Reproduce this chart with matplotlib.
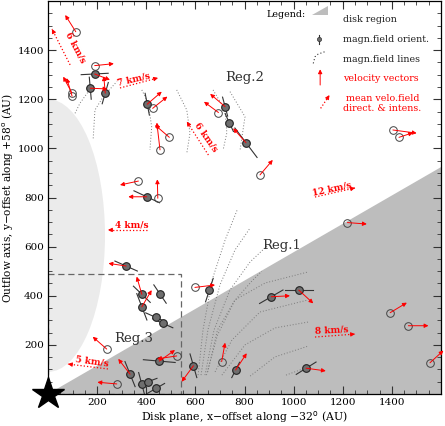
import numpy as np
import matplotlib.pyplot as plt
from matplotlib.patches import Polygon, Ellipse, Rectangle

# ---- data (AU) ----
# filled maser spots: position, B-field orientation (deg), segment length, velocity vector
fill_x = [190, 172, 233, 404, 721, 738, 806, 402, 318, 382, 456, 382, 439, 467, 453, 334, 382, 406, 440, 657, 592, 764, 909, 1021, 1051]
fill_y = [1303, 1245, 1225, 1180, 1170, 1105, 1023, 803, 521, 406, 407, 355, 312, 288, 134, 81, 39, 50, 23, 423, 115, 98, 396, 423, 105]
fill_ang = [3, 95, 74, 101, 105, 115, 127, 155, 156, 136, 124, 111, 156, 156, 175, 112, 105, 20, 30, 72, 106, 63, 30, 0, 32]
fill_len = [110, 90, 90, 90, 80, 80, 150, 115, 100, 95, 90, 115, 90, 90, 130, 110, 100, 80, 80, 100, 100, 70, 110, 115, 95]
fill_vx = [62, 70, -6, 59, -61, 0, -52, -75, -72, -21, 0, 40, 0, 0, 64, -48, 0, 0, 0, 0, -48, 45, 76, 59, 80]
fill_vy = [-24, -3, 69, 51, 52, 0, 59, 0, 11, 72, 0, 68, 0, 0, 45, 62, 0, 0, 0, 0, -65, 68, 4, -54, -11]

# open maser spots: position, velocity vector
open_x = [113, 190, 97, 98, 426, 494, 456, 694, 863, 447, 368, 1404, 1429, 1219, 1393, 1467, 1555, 598, 707, 239, 524, 280]
open_y = [1475, 1337, 1226, 1213, 1163, 1045, 994, 1146, 892, 797, 867, 1075, 1045, 698, 331, 278, 127, 434, 132, 183, 155, 41]
open_vx = [-43, 78, -35, -22, 60, -58, -13, -59, 52, -2, -75, 97, 57, 79, 68, 82, 55, 82, 14, -57, -80, -79]
open_vy = [68, 8, 66, 73, 48, 50, 111, 44, 61, 77, -16, -13, 19, -6, 41, 0, 50, 10, 77, 50, -12, 7]

# mean velocity field arrows
mean_x0 = [90, 293, 653, 1087, 403, 244, 1087]
mean_y0 = [1340, 1246, 973, 802, 668, 102, 232]
mean_x1 = [16, 448, 565, 1250, 244, 81, 1250]
mean_y1 = [1486, 1287, 1109, 839, 668, 122, 244]
mean_lab = ['6 km/s', '7 km/s', '6 km/s', '12 km/s', '4 km/s', '5 km/s', '8 km/s']
mean_tx = [112, 349, 644, 1155, 341, 178, 1155]
mean_ty = [1411, 1283, 1045, 833, 688, 132, 261]
mean_rot = [-62, 13, -55, 12, 0, -8, 3]

# magnetic field lines (dotted)
field_lines = [
    [(110, 1143), (130, 1184), (164, 1231)],
    [(184, 1041), (191, 1156), (225, 1211), (280, 1272)],
    [(382, 1238), (408, 1184), (422, 1088), (415, 994)],
    [(524, 1238), (565, 1156), (578, 1062), (565, 980)],
    [(672, 1238), (721, 1156), (728, 1063), (713, 994)],
    [(741, 1231), (802, 1129), (782, 994)],
    [(611, 77), (631, 261), (668, 464), (721, 627), (770, 749)],
    [(623, 77), (651, 261), (700, 444), (761, 586), (823, 676)],
    [(639, 77), (676, 261), (741, 424), (823, 538), (896, 607)],
    [(645, 77), (690, 240), (760, 380), (830, 460), (870, 500)],
    [(650, 90), (690, 261), (761, 383), (884, 452), (1059, 497)],
    [(680, 90), (749, 220), (863, 334), (1059, 383)],
    [(708, 77), (802, 200), (924, 269), (1059, 293)],
    [(823, 73), (924, 151), (1059, 195)],
    [(969, 77), (1059, 110)],
]

regions = ['Reg.1', 'Reg.2', 'Reg.3']
reg_x = [952, 802, 350]
reg_y = [605, 1287, 224]

disk_angle = 30  # deg
xmax, ymax = 1600, 1600

plt.rcParams['font.family'] = ['DejaVu Serif']
fig = plt.figure(figsize=(4.45, 4.26), dpi=100)
ax = fig.add_axes([0.1079, 0.0751, 0.8831, 0.9225])

# background regions
ax.add_patch(Ellipse((0, 645), 464, 1110, color='#ebebeb', lw=0, zorder=0))
ax.add_patch(Polygon([(0, 0), (xmax, xmax * np.tan(np.radians(disk_angle))), (xmax, 0)],
                     closed=True, color='#bdbdbd', lw=0, zorder=1))
ax.add_patch(Rectangle((0, 0), 540, 490, fill=False, ls=(0, (5, 3)), ec='#666666', lw=0.9, zorder=2))

for line in field_lines:
    xs, ys = zip(*line)
    ax.plot(xs, ys, ls=(0, (1, 2)), color='#7a7a7a', lw=0.7, zorder=2)


def red_arrow(x0, y0, x1, y1, ls='-'):
    ax.annotate('', xy=(x1, y1), xytext=(x0, y0), annotation_clip=False,
                arrowprops=dict(arrowstyle='-|>', color='red', lw=0.7, ls=ls,
                                shrinkA=0, shrinkB=0, mutation_scale=6), zorder=5)


# field orientation segments
for x, y, a, l in zip(fill_x, fill_y, fill_ang, fill_len):
    c, s = np.cos(np.radians(a)), np.sin(np.radians(a))
    ax.plot([x - l / 2 * c, x + l / 2 * c], [y - l / 2 * s, y + l / 2 * s], color='#333333', lw=0.8, zorder=3)

# velocity vectors
for x, y, dx, dy in zip(fill_x + open_x, fill_y + open_y, fill_vx + open_vx, fill_vy + open_vy):
    if dx != 0 or dy != 0:
        red_arrow(x, y, x + dx, y + dy)

ax.plot(fill_x, fill_y, 'o', ms=5.5, mfc='#6e6e6e', mec='#222222', mew=0.8, ls='none', zorder=4)
ax.plot(open_x, open_y, 'o', ms=5.5, mfc='none', mec='#444444', mew=0.7, ls='none', zorder=4)

# mean velocity field
for x0, y0, x1, y1, lab, tx, ty, r in zip(mean_x0, mean_y0, mean_x1, mean_y1, mean_lab, mean_tx, mean_ty, mean_rot):
    ax.plot([x0, x1], [y0, y1], ls=':', color='red', lw=0.9, zorder=5)
    red_arrow(x1 - 0.1 * (x1 - x0), y1 - 0.1 * (y1 - y0), x1, y1)
    ax.text(tx, ty, lab, color='red', fontsize=6.5, fontweight='bold', rotation=r,
            ha='center', va='center', rotation_mode='anchor', zorder=6)

for t, x, y in zip(regions, reg_x, reg_y):
    ax.text(x, y, t, fontsize=9.5, ha='center', va='center', color='#333333', zorder=6)

# legend
ax.text(890, 1547, 'Legend:', fontsize=6.8, ha='left', va='center')
ax.add_patch(Polygon([(1074, 1543), (1141, 1543), (1141, 1580)], closed=True, color='#bdbdbd', lw=0))
ax.plot([1104, 1104], [1426, 1462], color='#333333', lw=0.8)
ax.plot([1104], [1444], 'o', ms=3, mfc='#6e6e6e', mec='#333333', mew=0.5)
ax.plot([1080, 1087, 1100, 1128], [1346, 1373, 1384, 1394], ls=(0, (1, 2)), color='#333333', lw=0.8)
red_arrow(1108, 1258, 1108, 1322)
ax.plot([1110, 1146], [1163, 1217], ls=':', color='red', lw=0.9)
red_arrow(1142, 1211, 1146, 1217)
leg_lab = ['disk region', 'magn.field orient.', 'magn.field lines', 'velocity vectors']
leg_y = [1526, 1444, 1363, 1283]
leg_c = ['#222222', '#222222', '#222222', 'red']
for t, y, c in zip(leg_lab, leg_y, leg_c):
    ax.text(1200, y, t, fontsize=6.8, color=c, ha='left', va='center')
ax.text(1361, 1203, 'mean velo.field', fontsize=6.8, color='red', ha='center', va='center')
ax.text(1361, 1161, 'direct. & intens.', fontsize=6.8, color='red', ha='center', va='center')

# star at origin
ax.plot([0], [0], marker='*', ms=24, color='black', clip_on=False, zorder=10)

ax.set_xlim(0, xmax)
ax.set_ylim(0, ymax)
ax.set_xticks(range(200, 1600, 200))
ax.set_yticks(range(200, 1600, 200))
ax.set_xticks(range(0, 1601, 50), minor=True)
ax.set_yticks(range(0, 1601, 50), minor=True)
ax.tick_params(which='both', direction='in', top=True, right=True, labelsize=7.5, color='#333333')
ax.tick_params(which='major', length=6, width=0.8, pad=3)
ax.tick_params(which='minor', length=3, width=0.6)
for s in ax.spines.values():
    s.set_linewidth(0.9)
ax.set_xlabel('Disk plane, x\u2212offset along \u221232$^{\\rm o}$ (AU)', fontsize=7.8, labelpad=2)
ax.set_ylabel('Outflow axis, y\u2212offset along +58$^{\\rm o}$ (AU)', fontsize=7.6)
ax.yaxis.set_label_coords(-0.085, 0.5)

fig.savefig('out.png', dpi=100)
